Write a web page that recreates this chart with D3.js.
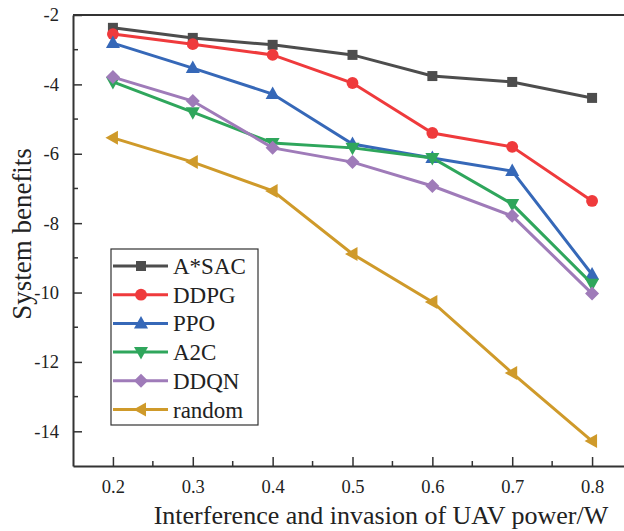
<!DOCTYPE html>
<meta charset="utf-8">
<script src="https://d3js.org/d3.v7.min.js"></script>
<style>
	body{
		margin:0;
		background:#fff;
	}
	svg text{
		font-family:"Liberation Serif","Times New Roman",serif !important;
		fill:#222;
	}
</style>
<div id="chart"></div>
<script>
	// power levels on the x axis
	var power = [0.2, 0.3, 0.4, 0.5, 0.6, 0.7, 0.8]

	// system benefits per algorithm
	var asac   = [-2.37, -2.66, -2.86, -3.15, -3.76, -3.93, -4.39]
	var ddpg   = [-2.55, -2.84, -3.15, -3.96, -5.40, -5.80, -7.36]
	var ppo    = [-2.81, -3.53, -4.28, -5.72, -6.12, -6.50, -9.48]
	var a2c    = [-3.93, -4.80, -5.69, -5.83, -6.12, -7.45, -9.75]
	var ddqn   = [-3.79, -4.48, -5.83, -6.24, -6.93, -7.79, -10.03]
	var random = [-5.54, -6.24, -7.07, -8.89, -10.27, -12.32, -14.28]

	var names = ["A*SAC","DDPG","PPO","A2C","DDQN","random"]
	var values = [asac, ddpg, ppo, a2c, ddqn, random]
	var colors = ["#4d4d4d","#ef3a3c","#3668b8","#2fa65c","#9f7bb9","#cf9a2a"]
	var symbols = ["square","circle","triUp","triDown","diamond","triLeft"]

	var yTicks = [-2,-4,-6,-8,-10,-12,-14]

	var w = 624
	var h = 531
	var mLeft = 73, mTop = 15, mBottom = 466, mRight = 632

	var svg = d3.select("#chart").append("svg").attr("width",w).attr("height",h)

	var x = d3.scaleLinear().domain([0.15,0.85]).range([mLeft,mRight])
	var y = d3.scaleLinear().domain([-15,-2]).range([mBottom,mTop])

	// marker path for each symbol type
	function marker(type){
		if(type=="square") return d3.symbol().type(d3.symbolSquare).size(100)()
		if(type=="circle") return d3.symbol().type(d3.symbolCircle).size(110)()
		if(type=="diamond") return "M0,-7L7,0L0,7L-7,0Z"
		if(type=="triUp") return "M0,-7.5L7,5L-7,5Z"
		if(type=="triDown") return "M0,7.5L7,-5L-7,-5Z"
		if(type=="triLeft") return "M-7.5,0L5,-7L5,7Z"
	}

	// axes: ticks point inward
	var xAxis = d3.axisBottom(x).tickValues(power).tickSizeInner(-9).tickSizeOuter(0).tickPadding(14)
		.tickFormat(d3.format(".1f"))
	var gx = svg.append("g").attr("transform","translate(0,"+mBottom+")").call(xAxis)
		.attr("font-family",null)
	gx.selectAll("text").style("font-size","18.5px")

	var yAxis = d3.axisLeft(y).tickValues(yTicks).tickSizeInner(-9).tickSizeOuter(0).tickPadding(14)
		.tickFormat(function(d){ return d<0 ? "-"+Math.abs(d) : d })
	var gy = svg.append("g").attr("transform","translate("+mLeft+",0)").call(yAxis)
		.attr("font-family",null)
	gy.selectAll("text").style("font-size","18.5px")

	// minor ticks
	var xMinor = [0.25,0.35,0.45,0.55,0.65,0.75]
	svg.append("g").selectAll("line").data(xMinor).join("line")
		.attr("x1",d=>x(d)).attr("x2",d=>x(d)).attr("y1",mBottom).attr("y2",mBottom-5)
		.attr("stroke","#333").attr("stroke-width",1.5)
	var yMinor = [-3,-5,-7,-9,-11,-13]
	svg.append("g").selectAll("line").data(yMinor).join("line")
		.attr("y1",d=>y(d)).attr("y2",d=>y(d)).attr("x1",mLeft).attr("x2",mLeft+5)
		.attr("stroke","#333").attr("stroke-width",1.5)

	svg.selectAll(".domain").attr("stroke","#333").attr("stroke-width",2)
	svg.selectAll(".tick line").attr("stroke","#333").attr("stroke-width",1.5)

	// top frame line
	svg.append("line").attr("x1",mLeft).attr("x2",w).attr("y1",mTop).attr("y2",mTop)
		.attr("stroke","#333").attr("stroke-width",2)

	// series
	var line = d3.line().x((d,i)=>x(power[i])).y(d=>y(d))
	for(var s in values){
		svg.append("path").attr("d",line(values[s]))
			.attr("fill","none").attr("stroke",colors[s]).attr("stroke-width",3)
		svg.append("g").selectAll("path").data(values[s]).join("path")
			.attr("d",marker(symbols[s]))
			.attr("transform",(d,i)=>"translate("+x(power[i])+","+y(d)+")")
			.attr("fill",colors[s])
	}

	// legend
	var lg = svg.append("g")
	lg.append("rect").attr("x",111).attr("y",249).attr("width",147).attr("height",176)
		.attr("fill","#fff").attr("stroke","#333").attr("stroke-width",1.2)
	for(var s in names){
		var ly = 266 + s*28.7
		lg.append("line").attr("x1",113).attr("x2",168).attr("y1",ly).attr("y2",ly)
			.attr("stroke",colors[s]).attr("stroke-width",3)
		lg.append("path").attr("d",marker(symbols[s]))
			.attr("transform","translate(141,"+ly+")").attr("fill",colors[s])
		lg.append("text").attr("x",173).attr("y",ly+8).text(names[s]).style("font-size","23px")
	}

	// axis titles
	svg.append("text").attr("x",381).attr("y",524).attr("text-anchor","middle")
		.style("font-size","26px").text("Interference and invasion of UAV power/W")
	svg.append("text").attr("transform","translate(31,234) rotate(-90)").attr("text-anchor","middle")
		.style("font-size","27px").text("System benefits")
</script>
